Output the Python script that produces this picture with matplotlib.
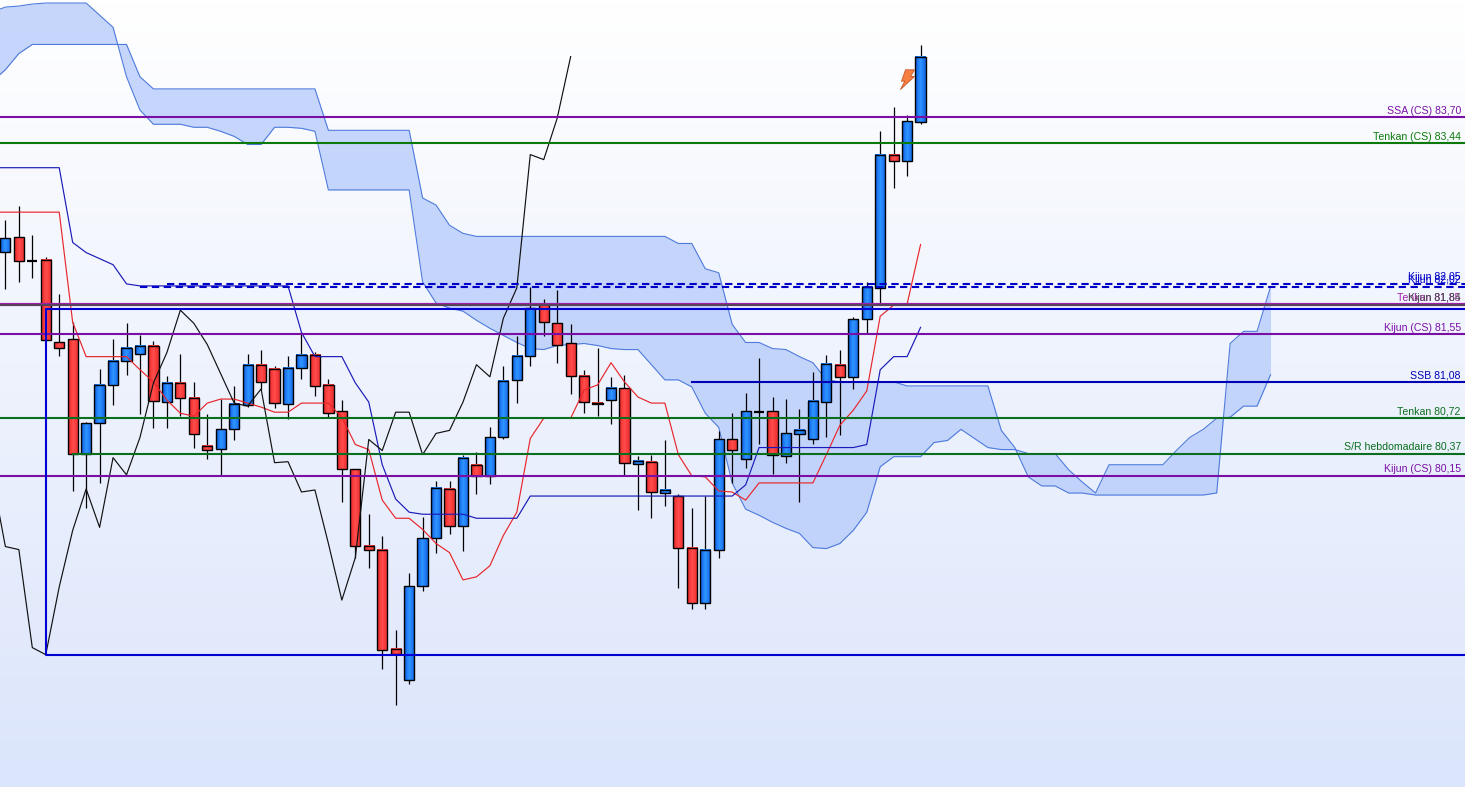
import numpy as np
import matplotlib
matplotlib.use("Agg")
import matplotlib.pyplot as plt
from matplotlib.path import Path
from matplotlib.patches import Rectangle

plt.rcParams['font.family'] = ['Liberation Sans', 'DejaVu Sans']

# candles, prices
opens = [82.37,82.51,82.28,82.29,81.47,81.50,80.37,80.67,81.05,81.29,81.36,81.44,80.88,81.07,80.92,80.45,80.42,80.61,
         80.85,81.25,81.21,80.86,81.22,81.35,81.05,80.79,80.22,79.46,79.42,78.44,78.13,79.06,79.53,80.02,79.65,80.26,
         80.15,80.53,81.10,81.34,81.85,81.66,81.46,81.14,80.87,80.90,81.02,80.27,80.29,79.98,79.95,79.44,78.89,79.42,
         80.51,80.32,80.78,80.79,80.35,80.56,80.51,80.88,81.25,81.13,81.70,82.01,83.33,83.27,83.65]
highs = [82.68,82.82,82.53,82.32,81.95,81.67,80.68,81.21,81.50,81.66,81.54,81.48,81.14,81.36,81.08,80.76,80.91,81.04,
         81.36,81.40,81.24,81.34,81.57,81.38,81.11,80.90,80.22,79.77,79.55,78.62,79.19,79.74,80.10,80.10,80.36,80.39,
         80.63,81.24,81.53,82.02,81.90,81.99,81.65,81.20,81.42,81.13,81.15,80.35,80.36,80.50,79.97,79.83,79.95,80.59,
         80.77,80.97,81.32,80.93,80.91,80.81,81.18,81.35,81.40,81.72,82.07,83.56,83.80,83.72,84.41]
lows = [82.00,82.07,82.11,81.49,81.34,80.00,79.83,80.08,80.85,81.15,80.76,80.62,80.62,80.74,80.43,80.32,80.16,80.50,
        80.83,81.00,80.82,80.71,81.11,80.94,80.73,79.89,79.34,79.24,78.24,77.88,78.09,79.01,79.39,79.57,79.41,79.97,
        80.07,80.51,80.87,81.24,81.53,81.27,80.96,80.77,80.74,80.66,80.16,79.81,79.73,79.85,79.04,78.83,78.83,79.34,
        80.08,80.23,80.47,80.17,80.28,79.89,80.47,80.53,80.55,81.01,81.56,81.86,83.00,83.12,83.63]
closes = [82.50,82.28,82.28,81.49,81.42,80.37,80.67,81.05,81.29,81.42,81.44,80.89,81.07,80.92,80.56,80.41,80.61,80.86,
          81.25,81.08,80.87,81.22,81.35,81.04,80.77,80.22,79.46,79.42,78.43,78.39,79.06,79.53,80.03,79.65,80.33,80.15,
          80.53,81.09,81.34,81.81,81.67,81.45,81.14,80.88,80.86,81.02,80.28,80.30,79.99,80.01,79.44,78.89,79.42,80.51,
          80.41,80.79,80.78,80.36,80.57,80.60,80.89,81.26,81.13,81.70,82.02,83.33,83.27,83.66,84.30]

# ichimoku lines, all start one bar left of the first candle
tenkan = [82.76,82.76,82.76,82.76,82.76,82.76,81.67,81.33,81.33,81.33,81.33,81.20,81.08,80.90,80.77,80.74,80.87,80.91,
          80.91,80.87,80.83,80.78,80.78,80.87,80.87,80.87,80.73,80.46,80.41,79.91,79.73,79.73,79.62,79.48,79.39,79.12,
          79.15,79.26,79.56,79.79,80.52,80.72,80.72,80.72,81.00,81.05,81.27,81.08,80.93,80.87,80.87,80.36,80.15,80.14,
          80.00,79.99,79.91,80.08,80.08,80.08,80.08,80.08,80.36,80.65,80.80,80.99,81.73,81.84,81.85,82.44]
kijun = [83.20,83.20,83.20,83.20,83.20,83.20,82.46,82.36,82.30,82.24,82.05,82.03,82.03,82.03,82.03,82.03,82.03,82.03,
         82.03,82.03,82.03,82.03,82.03,81.57,81.33,81.33,81.33,81.07,80.88,80.26,79.92,79.79,79.77,79.77,79.77,79.77,
         79.73,79.73,79.73,79.73,79.95,79.95,79.95,79.95,79.95,79.95,79.95,79.95,79.95,79.95,79.95,79.95,79.95,79.95,
         79.95,79.95,80.06,80.43,80.43,80.43,80.43,80.43,80.43,80.43,80.43,80.46,81.20,81.33,81.33,81.62]
chikou = [80.16,79.45,79.42,78.45,78.38,79.05,79.61,80.02,79.64,80.33,80.16,80.53,81.07,81.37,81.79,81.66,81.45,81.16,
          80.87,80.84,81.01,80.28,80.29,79.99,80.01,79.48,78.92,79.34,80.51,80.40,80.78,80.78,80.36,80.57,80.60,80.88,
          81.25,81.13,81.71,82.01,83.33,83.28,83.69,84.30]
cloud_a = [84.74,84.79,84.80,84.82,84.83,84.83,84.83,84.83,84.71,84.59,84.10,83.77,83.63,83.63,83.63,83.60,83.60,83.56,
           83.51,83.43,83.43,83.60,83.60,83.59,83.56,82.98,82.98,82.98,82.98,82.98,82.98,82.98,82.07,81.86,81.81,81.78,
           81.69,81.61,81.54,81.47,81.41,81.40,81.44,81.45,81.46,81.44,81.41,81.40,81.40,81.25,81.10,81.10,81.03,80.77,
           80.63,80.08,79.82,79.76,79.69,79.63,79.58,79.44,79.43,79.48,79.61,79.79,80.24,80.34,80.34,80.34,80.48,80.50,
           80.61,80.52,80.43,80.41,80.41,80.37,80.37,80.37,80.21,80.09,79.98,80.26,80.26,80.26,80.26,80.26,80.40,80.53,
           80.61,80.72,80.73,80.84,80.84,81.15]
cloud_b = [84.05,84.17,84.33,84.42,84.42,84.42,84.42,84.42,84.42,84.42,84.42,84.10,83.98,83.98,83.98,83.98,83.98,83.98,
           83.98,83.98,83.98,83.98,83.98,83.98,83.98,83.57,83.57,83.57,83.57,83.57,83.57,83.57,82.90,82.83,82.63,82.55,
           82.52,82.52,82.52,82.52,82.52,82.52,82.52,82.52,82.52,82.52,82.52,82.52,82.52,82.52,82.52,82.45,82.45,82.20,
           82.16,81.65,81.47,81.47,81.41,81.40,81.33,81.27,81.10,81.08,81.08,81.08,81.08,81.08,81.04,81.04,81.04,81.04,
           81.04,81.04,81.04,80.60,80.43,80.14,80.05,80.05,79.98,79.98,79.96,79.96,79.96,79.96,79.96,79.96,79.96,79.96,
           79.96,79.98,81.46,81.58,81.58,82.02]

# horizontal levels
level_labels = ["SSA (CS) 83,70","Tenkan (CS) 83,44","Kijun 82,05","Kijun 82,02","Tenkan 81,85","Kijun 81,84",
                "Kijun (CS) 81,55","SSB 81,08","Tenkan 80,72","S/R hebdomadaire 80,37","Kijun (CS) 80,15"]
level_prices = [83.70,83.44,82.05,82.02,81.85,81.84,81.55,81.08,80.72,80.37,80.15]
level_colors = ["#7a0fa6","#0b7a0b","#0000c8","#0000c8","#a01fa8","#4a4a4a",
                "#7a0fa6","#0000b4","#0b6e1e","#0b6e1e","#7a0fa6"]
level_starts = [-1,-1,12,10,-1,-1,-1,51,-1,5,-1]
level_styles = ["-","-","--","--","-","-","-","-","-","-","-"]
level_widths = [1.5,1.5,1.5,1.5,2.3,1.2,1.5,1.5,1.5,1.5,1.5]

box_start = 3
box_top = 81.80
box_bottom = 78.38
signal_bar = 67
signal_price = 84.08

BLUE_GRAD = np.array([[[0.06,0.38,0.88],[0.14,0.50,0.97],[0.18,0.58,1.0],[0.14,0.50,0.97],[0.08,0.42,0.90]]])
RED_GRAD = np.array([[[0.90,0.18,0.18],[0.98,0.24,0.24],[1.0,0.30,0.30],[0.98,0.24,0.24],[0.92,0.20,0.20]]])
HALF_W = 0.38

fig = plt.figure(figsize=(14.65,7.87),dpi=100)
ax = fig.add_axes([0,0,1,1])
ax.axis('off')

# background
bg = np.linspace(0,1,256).reshape(-1,1,1)*np.array([[[0xdb-255,0xe5-255,0xfb-255]]])/255.0+1.0
ax.imshow(bg,extent=(0,1,0,1),transform=ax.transAxes,aspect='auto',zorder=0)

# cloud
cloud_x = np.arange(-1,len(cloud_a)-1)
ax.fill_between(cloud_x,cloud_a,cloud_b,color="#bccffb",alpha=0.85,lw=0,zorder=1)
ax.plot(cloud_x,cloud_a,color="#4f7bdc",lw=0.8,zorder=1.5)
ax.plot(cloud_x,cloud_b,color="#4f7bdc",lw=0.8,zorder=1.5)

# candles
for i in range(len(opens)):
    top = max(opens[i],closes[i])
    bottom = min(opens[i],closes[i])
    ax.plot([i,i],[lows[i],highs[i]],color="black",lw=0.9,solid_capstyle='butt',zorder=2)
    if top-bottom < 0.005:
        ax.plot([i-HALF_W,i+HALF_W],[top,top],color="black",lw=1.6,solid_capstyle='butt',zorder=2.1)
        continue
    grad = BLUE_GRAD if closes[i] > opens[i] else RED_GRAD
    ax.imshow(grad,extent=(i-HALF_W,i+HALF_W,bottom,top),aspect='auto',interpolation='bilinear',zorder=2.1)
    ax.add_patch(Rectangle((i-HALF_W,bottom),2*HALF_W,top-bottom,fill=False,ec="black",lw=1.0,zorder=2.2))

# indicators
ax.plot(np.arange(-1,len(tenkan)-1),tenkan,color="#e8262c",lw=0.85,zorder=3)
ax.plot(np.arange(-1,len(kijun)-1),kijun,color="#1a1ab8",lw=0.85,zorder=3)
ax.plot(np.arange(-1,len(chikou)-1),chikou,color="#111111",lw=0.85,zorder=3)

# levels
x_right = 108.5
for label,price,color,start,style,width in zip(level_labels,level_prices,level_colors,
                                               level_starts,level_styles,level_widths):
    ax.plot([start,x_right],[price,price],color=color,lw=width,ls=style,zorder=4,
            dashes=(3.5,2.2) if style=="--" else (None,None))
    ax.annotate(label,xy=(1,price),xycoords=ax.get_yaxis_transform(),xytext=(-3,1.2),
                textcoords='offset points',ha='right',va='bottom',fontsize=7.6,color=color,zorder=5)

# blue box
ax.plot([x_right,box_start,box_start,x_right],[box_top,box_top,box_bottom,box_bottom],
        color="#0000d2",lw=1.5,zorder=4)

# signal icon
bolt = Path([(-0.2,0.97),(0.7,0.97),(0.3,0.3),(0.7,0.3),(-0.7,-1.0),(-0.27,-0.17),(-0.6,-0.17),(-0.2,0.97)],closed=True)
ax.plot([signal_bar],[signal_price],marker=bolt,ms=14.4,mfc="#f57f3e",mec="#c8552c",mew=0.6,ls='none',zorder=5)

ax.set_xlim(-0.40,108.45)
ax.set_ylim(77.07,84.86)

fig.savefig("out.png",dpi=100)
